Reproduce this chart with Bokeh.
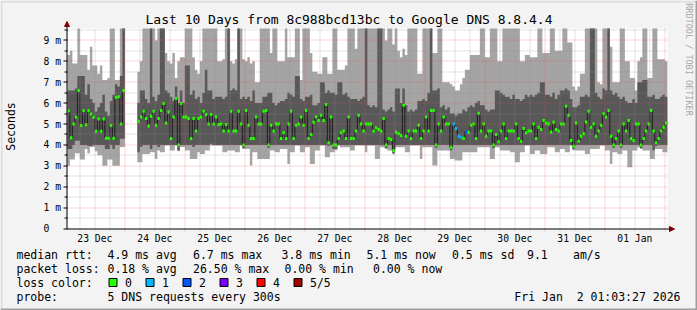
import numpy as np
import pandas as pd
from math import pi
from bokeh.plotting import figure
from bokeh.models import (ColumnDataSource, Range1d, Label, BoxAnnotation, Arrow, NormalHead)
from bokeh.embed import file_html
from bokeh.resources import INLINE

# ---------------- data (milliseconds, one value per hour) ----------------
N = None
rtt_min = [
    3.0, 3.3, 3.3, 3.6, 3.6, 3.3, 3.3, 3.8, 3.6, 3.9,
    3.9, 3.7, 3.5, 3.5, 3.0, 3.0, 3.3, 3.3, 3.0, 3.0,
    3.0, 3.9, 3.9, N, N, N, N, N, 3.17, 3.17,
    3.57, 3.57, 3.57, 3.65, 3.65, 3.33, 3.73, 3.65, 3.65, 3.97,
    3.97, 3.73, 3.73, 3.97, 3.7, 3.9, 3.9, 3.73, 3.73, 3.33,
    3.33, 3.33, 3.65, 3.57, 3.57, 3.73, 3.73, 3.97, 3.97, 3.97,
    3.97, 3.97, 3.65, 3.65, 3.73, 3.73, 3.73, 3.65, 3.65, 3.97,
    3.8, 3.81, 3.81, 3.01, 3.65, 3.65, 3.33, 3.33, 3.33, 3.33,
    3.33, 3.73, 3.73, 3.65, 3.65, 3.81, 3.81, 3.81, 3.09, 3.65,
    3.65, 3.97, 3.97, 3.65, 3.65, 3.89, 3.89, 3.09, 3.09, 3.73,
    3.73, 3.97, 3.97, 3.41, 3.41, 3.65, 3.65, 3.75, 3.97, 3.89,
    3.89, 3.89, 3.89, 3.73, 3.73, 3.97, 3.97, 3.97, 3.97, 3.65,
    3.97, 3.97, 3.97, 3.33, 3.33, 3.89, 3.89, 3.8, 3.73, 3.73,
    3.55, 3.89, 3.89, 3.89, 3.89, 3.65, 3.65, 3.97, 3.97, 3.97,
    3.97, 3.33, 3.89, 3.89, 3.89, 3.89, 3.01, 3.01, 3.73, 3.73,
    3.73, 3.73, 3.73, 3.33, 3.33, 3.25, 3.25, 3.25, 3.65, 3.65,
    3.65, 3.65, 3.65, 3.65, 3.89, 3.89, 3.89, 3.89, 3.89, 3.33,
    3.33, 3.89, 3.89, 3.73, 3.73, 3.73, 3.73, 3.65, 3.65, 3.17,
    3.17, 3.65, 3.65, 3.97, 3.97, 3.57, 3.57, 3.73, 3.73, 3.57,
    3.57, 3.57, 3.89, 3.89, 3.89, 3.65, 3.65, 3.81, 3.81, 3.65,
    3.65, 3.97, 3.75, 3.73, 3.73, 3.73, 3.73, 3.57, 3.57, 3.81,
    3.81, 3.81, 3.81, 3.97, 3.97, 3.73, 3.73, 3.09, 3.65, 3.65,
    3.57, 3.57, 3.73, 3.73, 2.93, 2.93, 3.73, 3.73, 3.89, 3.8,
    3.73, 3.73, 3.73, 3.33, 3.33, 3.81, 3.81, 3.81, 3.65, 3.65,
]
rtt_low = [
    3.8, 3.8, 4.0, 4.2, 4.2, 4.0, 4.0, 4.0, 3.95, 3.95,
    4.0, 4.0, 4.0, 4.0, 4.0, 3.8, 3.8, 4.0, 3.8, 4.0,
    4.0, 4.3, 4.3, N, N, N, N, N, 3.65, 3.9,
    4.0, 4.0, 4.0, 3.8, 4.0, 4.0, 3.9, 4.0, 4.0, 4.0,
    4.0, 4.0, 4.0, 4.0, 3.75, 4.0, 4.0, 4.0, 4.0, 4.0,
    3.9, 4.0, 4.0, 4.0, 4.0, 4.0, 4.0, 4.05, 4.0, 4.0,
    4.0, 4.0, 4.0, 4.0, 4.0, 4.0, 4.0, 4.0, 4.0, 4.0,
    3.85, 4.0, 4.0, 4.0, 4.0, 4.0, 4.0, 4.0, 4.0, 4.0,
    3.85, 4.0, 4.0, 4.0, 4.0, 4.0, 4.0, 4.0, 4.0, 4.0,
    4.0, 4.0, 4.0, 4.0, 4.0, 4.0, 4.0, 4.0, 4.0, 4.0,
    4.0, 4.0, 4.0, 4.0, 3.95, 4.0, 3.8, 3.8, 4.0, 4.0,
    4.0, 4.0, 4.0, 4.0, 4.0, 4.0, 4.0, 4.0, 4.0, 4.0,
    4.0, 4.0, 4.0, 4.0, 4.0, 4.0, 4.0, 3.85, 4.0, 4.0,
    3.6, 4.0, 4.0, 4.0, 4.0, 4.0, 4.0, 4.0, 4.0, 4.0,
    4.0, 4.0, 4.0, 4.0, 4.0, 4.0, 4.0, 3.85, 4.0, 4.0,
    4.0, 4.0, 4.0, 3.75, 4.0, 4.0, 4.0, 4.0, 4.0, 4.0,
    4.0, 4.0, 4.0, 4.0, 4.0, 4.0, 4.0, 4.0, 4.0, 4.0,
    3.85, 4.0, 4.0, 4.0, 4.0, 4.0, 4.0, 4.0, 4.0, 4.0,
    4.0, 4.0, 4.0, 4.0, 4.0, 4.0, 4.0, 4.0, 4.0, 4.0,
    4.0, 4.0, 4.0, 4.0, 4.0, 4.0, 4.0, 4.0, 4.0, 4.0,
    4.0, 4.0, 3.8, 4.0, 4.0, 4.0, 4.0, 4.0, 4.0, 4.0,
    4.0, 4.0, 4.0, 4.0, 4.0, 4.0, 4.0, 4.0, 3.85, 4.0,
    4.0, 3.85, 4.0, 4.0, 4.0, 4.0, 4.0, 4.0, 4.0, 3.85,
    4.0, 4.0, 4.0, 4.0, 3.75, 3.95, 4.0, 4.0, 4.0, 4.0,
]
rtt_median = [
    5.64, 4.34, 5.0, 5.32, 6.6, 4.93, 5.64, 4.97, 5.64, 5.48,
    5.32, 4.65, 5.24, 4.65, 5.24, 4.32, 4.32, 4.93, 4.32, 6.28,
    6.3, 5.0, 6.6, N, N, N, N, N, 5.13, 5.33,
    5.61, 5.26, 4.9, 5.37, 5.61, 4.94, 5.26, 5.65, 5.98, 5.05,
    5.58, 4.31, 5.33, 6.22, 3.99, 5.98, 5.33, 5.33, 5.26, 4.31,
    5.26, 4.66, 5.26, 5.33, 5.61, 5.45, 5.0, 5.45, 5.0, 5.33,
    4.98, 5.0, 4.66, 4.98, 4.66, 5.61, 4.66, 4.66, 5.61, 5.0,
    3.99, 5.65, 4.94, 4.31, 4.31, 5.33, 5.0, 5.0, 5.61, 5.65,
    3.99, 4.94, 4.66, 5.0, 5.0, 4.31, 4.58, 4.31, 5.0, 5.61,
    4.31, 4.94, 5.0, 5.33, 4.94, 5.65, 4.31, 4.5, 5.09, 5.33,
    5.17, 5.42, 5.17, 5.93, 4.1, 5.33, 3.99, 3.99, 4.31, 4.58,
    4.66, 4.31, 5.33, 4.31, 4.31, 4.66, 5.42, 5.0, 4.66, 5.0,
    5.0, 5.0, 4.66, 4.82, 4.74, 4.66, 5.26, 3.99, 4.31, 4.26,
    3.73, 4.61, 4.53, 4.45, 5.9, 4.42, 4.66, 4.31, 4.66, 4.66,
    4.94, 4.31, 4.66, 5.33, 4.66, 5.65, 5.65, 3.99, 5.0, 4.66,
    5.33, 5.0, 5.0, 3.89, 5.0, 4.78, 4.42, 4.37, 4.31, 4.62,
    4.61, 4.94, 5.0, 4.31, 5.52, 4.66, 5.0, 4.42, 4.66, 4.66,
    3.99, 4.5, 4.15, 4.66, 5.0, 4.31, 4.66, 4.66, 4.66, 5.0,
    4.31, 4.18, 4.78, 4.58, 4.66, 4.66, 5.0, 4.31, 4.85, 4.74,
    5.17, 5.05, 5.0, 4.62, 5.09, 4.74, 4.66, 5.0, 5.0, 5.85,
    5.42, 4.21, 3.94, 5.05, 4.18, 4.42, 4.53, 5.1, 5.61, 4.85,
    5.0, 4.42, 4.66, 4.94, 5.49, 5.33, 5.65, 4.42, 3.99, 4.31,
    4.66, 3.99, 5.0, 4.66, 5.17, 4.31, 4.21, 5.0, 5.0, 3.99,
    4.31, 4.66, 5.0, 5.65, 4.66, 4.1, 4.31, 4.66, 4.85, 5.05,
]
rtt_high = [
    6.6, 6.6, 6.6, 6.7, 7.3, 7.3, 7.3, 6.4, 6.9, 6.2,
    6.0, 5.6, 5.8, 6.0, 6.4, 5.6, 5.4, 6.1, 6.4, 6.9,
    6.8, 7.3, 9.9, N, N, N, N, N, 6.0, 6.6,
    6.6, 6.2, 6.0, 9.9, 6.3, 6.1, 6.4, 9.9, 9.9, 6.6,
    6.5, 6.3, 6.1, 6.8, 6.0, 6.6, 6.0, 7.8, 7.8, 6.4,
    6.6, 6.2, 6.3, 6.0, 6.5, 7.6, 6.6, 6.6, 6.2, 6.3,
    6.3, 6.3, 6.2, 6.3, 9.9, 6.6, 6.7, 6.6, 9.9, 6.2,
    6.3, 6.2, 6.3, 6.1, 6.6, 6.0, 6.0, 6.0, 6.3, 6.3,
    6.5, 6.5, 6.0, 5.9, 6.0, 6.1, 6.1, 6.2, 6.5, 6.4,
    6.3, 7.3, 7.3, 6.2, 6.1, 6.3, 6.3, 6.4, 5.9, 5.9,
    6.0, 7.0, 7.0, 6.5, 6.6, 6.5, 6.5, 6.4, 7.0, 7.0,
    6.4, 6.5, 6.3, 6.2, 6.2, 6.2, 6.1, 6.2, 6.3, 9.9,
    5.9, 5.8, 5.9, 5.8, 9.9, 9.9, 5.7, 5.6, 5.7, 5.8,
    5.6, 6.7, 6.7, 6.0, 6.7, 5.9, 5.6, 5.7, 5.6, 5.7,
    6.1, 6.1, 6.2, 6.1, 6.5, 9.9, 6.6, 6.6, 6.7, 5.8,
    5.9, 5.7, 5.8, 5.5, 5.5, 5.4, 5.5, 5.5, 5.7, 5.6,
    5.8, 5.9, 5.8, 6.0, 6.1, 5.9, 5.9, 5.7, 5.6, 5.7,
    5.7, 6.6, 6.6, 6.5, 6.4, 6.3, 6.3, 6.2, 6.4, 6.2,
    6.2, 6.1, 6.2, 6.4, 6.3, 6.4, 6.3, 6.4, 6.5, 7.0,
    7.0, 6.4, 6.4, 6.3, 6.5, 6.2, 6.4, 6.6, 6.6, 6.7,
    6.6, 6.2, 5.8, 5.8, 5.9, 6.3, 6.3, 6.4, 6.3, 9.9,
    9.9, 6.5, 6.3, 6.2, 6.7, 6.6, 9.9, 6.6, 6.4, 6.5,
    6.3, 6.2, 6.3, 6.1, 6.0, 6.0, 6.2, 6.0, 7.0, 7.0,
    7.1, 7.1, 6.3, 6.3, 6.4, 6.2, 6.2, 6.3, 6.4, 6.3,
]
rtt_max = [
    8.3, 8.5, 7.9, 7.9, 9.9, 8.3, 8.3, 8.3, 7.6, 8.7,
    7.8, 7.8, 7.4, 7.8, 7.1, 7.1, 7.2, 9.9, 9.9, 7.1,
    7.1, 9.9, 9.9, N, N, N, N, N, 7.5, 8.0,
    9.9, 9.9, 9.9, 9.9, 9.9, 9.0, 9.9, 9.9, 9.9, 8.4,
    8.0, 7.9, 8.4, 7.2, 8.0, 8.2, 8.2, 9.9, 9.9, 9.9,
    8.2, 7.6, 7.4, 8.0, 9.9, 9.9, 9.9, 9.9, 9.9, 9.9,
    8.0, 8.0, 8.1, 9.9, 9.9, 8.0, 7.9, 8.1, 9.9, 9.9,
    8.1, 8.0, 8.2, 7.9, 8.0, 7.0, 7.0, 9.9, 9.9, 9.9,
    9.9, 8.4, 9.9, 9.9, 8.0, 8.0, 8.0, 9.9, 8.2, 8.2,
    8.2, 9.9, 9.9, 7.1, 9.9, 9.9, 9.9, 8.4, 7.5, 7.5,
    7.4, 7.4, 8.2, 8.2, 7.4, 7.4, 9.9, 9.9, 7.6, 7.6,
    7.6, 7.8, 9.9, 9.9, 9.9, 8.6, 9.9, 9.9, 9.9, 9.9,
    9.9, 9.9, 9.9, 9.9, 9.9, 9.9, 9.9, 9.0, 9.9, 9.9,
    8.8, 9.9, 8.5, 8.2, 8.6, 8.3, 9.9, 9.9, 9.9, 9.9,
    7.4, 7.4, 9.9, 9.9, 9.9, 9.9, 8.4, 8.4, 9.9, 9.9,
    7.0, 7.0, 7.0, 6.9, 6.8, 6.6, 6.6, 6.9, 7.2, 7.6,
    7.6, 8.3, 8.3, 8.3, 8.3, 9.9, 9.9, 8.2, 8.2, 9.9,
    9.9, 9.9, 8.0, 8.0, 9.9, 9.9, 9.9, 9.9, 9.9, 9.9,
    9.9, 8.0, 8.0, 8.3, 8.3, 8.2, 8.2, 8.2, 9.9, 9.9,
    8.4, 8.4, 8.4, 9.9, 9.9, 8.5, 8.5, 8.5, 9.9, 9.9,
    8.9, 8.9, 6.8, 6.6, 6.8, 7.4, 7.4, 9.9, 9.9, 9.9,
    9.9, 9.9, 7.0, 6.9, 9.9, 9.9, 9.9, 8.7, 7.0, 7.0,
    7.0, 9.9, 9.9, 8.0, 8.0, 7.2, 7.2, 6.6, 8.0, 8.2,
    9.9, 9.9, 7.2, 7.2, 9.9, 9.9, 8.1, 8.1, 8.1, 8.0,
]
# lost pings (out of 5) for the hours that had any loss
loss_events = {154: 1, 155: 1, 156: 1, 157: 1, 159: 2}
loss_labels = ["0", "1", "2", "3", "4", "5/5"]
loss_colors = ["#26ff00", "#00b8ff", "#0059ff", "#7e00ff", "#ff0000", "#a00000"]

day_labels = ["23 Dec", "24 Dec", "25 Dec", "26 Dec", "27 Dec",
              "28 Dec", "29 Dec", "30 Dec", "31 Dec", "01 Jan"]
y_tick_values = [0, 1, 2, 3, 4, 5, 6, 7, 8, 9]
y_tick_labels = ["0\u00a0\u00a0", "1 m", "2 m", "3 m", "4 m", "5 m", "6 m", "7 m", "8 m", "9 m"]

title_text = "Last 10 Days from 8c988bcd13bc to Google DNS 8.8.4.4"
rtt_stats = ["4.9 ms avg", "6.7 ms max", "3.8 ms min", "5.1 ms now", "0.5 ms sd", "9.1", "am/s"]
loss_stats = ["0.18 % avg", "26.50 % max", "0.00 % min", "0.00 % now"]
probe_text = "5 DNS requests every 300s"
stamp_text = "Fri Jan\u00a0 2 01:03:27 2026"

# ---------------- time base ----------------
first_bin = pd.Timestamp("2025-12-23 01:00")
edges = pd.date_range(first_bin, periods=len(rtt_median) + 1, freq="h")
t_end = pd.Timestamp("2026-01-02 01:03:27")
t_start = t_end - pd.Timedelta(days=10)
to_ms = lambda ts: ts.value // 10**6
edge_ms = [max(to_ms(e), to_ms(t_start)) for e in edges]

# ---------------- layout (canvas pixels) ----------------
W, H = 697, 310
FL, FT, FW, FH = 67, 28, 600, 200          # plot area left, top, width, height
Y_TOP = 9.57                               # ms at the top of the plot area
MONO = "DejaVu Sans Mono"
x0_ms, x1_ms = to_ms(t_start), to_ms(t_end)
ms_per_px = (x1_ms - x0_ms) / FW
val_per_px = Y_TOP / FH

def X(cx):   # canvas x pixel -> data x
    return x0_ms + (cx - FL) * ms_per_px

def Y(cy):   # canvas y pixel -> data y
    return (FT + FH - cy) * val_per_px

def snap_x(t):   # put a 1px line on a pixel centre
    cx = FL + (t - x0_ms) / ms_per_px
    return X(np.floor(cx) + 0.5)

def snap_y(v):
    cy = FT + FH - v / val_per_px
    return Y(np.floor(cy) + 0.5)

# The frame covers the whole canvas so that every text and mark is inside it.
p = figure(width=W, height=H, x_range=Range1d(X(0), X(W)), y_range=Range1d(Y(H), Y(0)),
           output_backend="svg", toolbar_location=None,
           x_axis_location=None, y_axis_location=None,
           min_border=0, min_border_left=0, min_border_right=0,
           min_border_top=0, min_border_bottom=0)
p.background_fill_color = "#f3f3f3"
p.border_fill_color = "#f3f3f3"
p.outline_line_color = None
p.grid.visible = False

# plot canvas
p.quad(left=[x0_ms], right=[x1_ms], bottom=[0], top=[Y_TOP], fill_color="white", line_color=None)

def clip(vals):
    return [np.nan if v is None else min(v, Y_TOP) for v in vals]

def runs(vals):
    out, s = [], None
    for i, v in enumerate(vals):
        if v is not None and s is None:
            s = i
        if v is None and s is not None:
            out.append((s, i)); s = None
    if s is not None:
        out.append((s, len(vals)))
    return out

# smoke (min..max light, 2nd..4th dark)
for lo_s, hi_s, col in [(rtt_min, rtt_max, "#a4a4a4"), (rtt_low, rtt_high, "#585858")]:
    lo_c, hi_c = clip(lo_s), clip(hi_s)
    for a, b in runs(rtt_median):
        xs = edge_ms[a:b + 1]
        y1 = lo_c[a:b] + [lo_c[b - 1]]
        y2 = hi_c[a:b] + [hi_c[b - 1]]
        p.varea_step(x=xs, y1=y1, y2=y2, step_mode="after", fill_color=col)

# median connector line
med_c = clip(rtt_median)
p.step(x=edge_ms, y=med_c + [med_c[-1]], mode="after", line_color="#1a1a1a", line_width=1)

# median markers coloured by loss
idx = [i for i, v in enumerate(rtt_median) if v is not None]
seg = ColumnDataSource(dict(
    x0=[edge_ms[i] for i in idx], x1=[edge_ms[i + 1] for i in idx],
    y=[rtt_median[i] for i in idx],
    c=[loss_colors[loss_events.get(i, 0)] for i in idx]))
p.segment(x0="x0", x1="x1", y0="y", y1="y", source=seg, line_color="c",
          line_width=3, line_cap="butt")

# ---------------- grid (drawn over the smoke, as rrdtool does) ----------------
noon_ms = [to_ms(pd.Timestamp("2025-12-23 12:00") + pd.Timedelta(days=k)) for k in range(len(day_labels))]
mid_ms = [to_ms(pd.Timestamp("2025-12-24") + pd.Timedelta(days=k)) for k in range(10)]
six_ms = [to_ms(pd.Timestamp("2025-12-23 06:00") + pd.Timedelta(hours=6 * k)) for k in range(40)]
six_ms = [t for t in six_ms if t not in mid_ms and x0_ms < t < x1_ms]
y_minor = [v + 0.5 for v in y_tick_values if v + 0.5 < Y_TOP]
y_major = [v for v in y_tick_values if v > 0]

six_px = [snap_x(t) for t in six_ms]
mid_px = [snap_x(t) for t in mid_ms]
ymin_px = [snap_y(v) for v in y_minor]
ymaj_px = [snap_y(v) for v in y_major]
ytick_px = [snap_y(v) for v in y_tick_values]

MINOR = dict(line_color="#8f8f8f", line_alpha=0.5, line_dash="1 1", line_width=1)
MAJOR = dict(line_color="#de5050", line_alpha=0.45, line_dash="1 1", line_width=1)
p.segment(x0=six_px, x1=six_px, y0=[Y(FT + FH + 2)] * len(six_px), y1=[Y_TOP] * len(six_px), **MINOR)
p.segment(x0=[x0_ms] * len(ymin_px), x1=[x1_ms] * len(ymin_px), y0=ymin_px, y1=ymin_px, **MINOR)
p.segment(x0=mid_px, x1=mid_px, y0=[Y(FT + FH + 3)] * len(mid_px), y1=[Y_TOP] * len(mid_px), **MAJOR)
p.segment(x0=[x0_ms] * len(ymaj_px), x1=[x1_ms] * len(ymaj_px), y0=ymaj_px, y1=ymaj_px, **MAJOR)

# y ticks
p.segment(x0=[X(63)] * len(ytick_px), x1=[X(67)] * len(ytick_px),
          y0=ytick_px, y1=ytick_px, line_color="black", line_width=1)
p.segment(x0=[X(64)] * len(ymin_px), x1=[X(67)] * len(ymin_px),
          y0=ymin_px, y1=ymin_px, line_color="black", line_width=1)

# axes with arrow heads
head = dict(size=5, fill_color="#7f0000", line_color="#7f0000")
p.add_layout(Arrow(x_start=X(66.5), y_start=Y(FT + FH + 0.5), x_end=X(66.5), y_end=Y(21),
                   line_color="black", line_width=1, end=NormalHead(**head)))
p.add_layout(Arrow(x_start=X(66.5), y_start=Y(FT + FH + 0.5), x_end=X(674), y_end=Y(FT + FH + 0.5),
                   line_color="black", line_width=1, end=NormalHead(**head)))

# tick labels
p.text(x=[X(60.5)] * len(y_tick_values), y=y_tick_values, text=y_tick_labels,
       text_font={"value": MONO}, text_font_size="9.7px", text_color="black",
       text_align="right", text_baseline="middle")
p.text(x=noon_ms, y=[Y(232.5)] * len(noon_ms), text=day_labels,
       text_font={"value": MONO}, text_font_size="9.7px", text_color="black",
       text_align="center", text_baseline="top")

# ---------------- texts ----------------
def text(t, cx, cy, size="11.5px", align="left", angle=0, color="black"):
    p.add_layout(Label(x=cx, y=H - cy, x_units="screen", y_units="screen", text=t,
                       text_font=MONO, text_font_size=size, text_align=align,
                       text_baseline="middle", angle=angle, text_color=color))

text(title_text, W / 2, 19, size="13px", align="center")
text("Seconds", 10, 126, angle=pi / 2, align="center")
text("RRDTOOL / TOBI OETIKER", 688, 59, size="8.5px", angle=-pi / 2, align="center", color="#a8a8a8")

row_y = [254, 268, 282, 296]
text("median rtt:", 16, row_y[0])
for t, cx in zip(rtt_stats, [107, 192.5, 281, 366, 451.5, 526.5, 572.5]):
    text(t, cx, row_y[0])
text("packet loss:", 16, row_y[1])
for t, cx in zip(loss_stats, [107, 192.5, 284, 372.5]):
    text(t, cx, row_y[1])
text("loss color:", 16, row_y[2])
for k, (lab, col) in enumerate(zip(loss_labels, loss_colors)):
    bx = 108.5 + 37 * k
    p.add_layout(BoxAnnotation(left=bx, right=bx + 8, top=H - (row_y[2] - 4), bottom=H - (row_y[2] + 4),
                               left_units="screen", right_units="screen", top_units="screen",
                               bottom_units="screen", fill_color=col, fill_alpha=1,
                               line_color="black", line_width=1, line_alpha=1))
    text(lab, bx + 16, row_y[2])
text("probe:", 16, row_y[3])
text(probe_text, 107, row_y[3])
text(stamp_text, 680, row_y[3], align="right")

# image frame shading
for (l, r, t, b, col) in [(0, 2, 0, H, "#dcdcdc"), (0, W, 0, 2, "#dcdcdc"),
                          (W - 2, W, 0, H, "#9e9e9e"), (0, W, H - 2, H, "#9e9e9e")]:
    p.add_layout(BoxAnnotation(left=l, right=r, top=H - t, bottom=H - b,
                               left_units="screen", right_units="screen", top_units="screen",
                               bottom_units="screen", fill_color=col, fill_alpha=1, line_alpha=0))

open("out.html", "w").write(file_html(p, INLINE))
